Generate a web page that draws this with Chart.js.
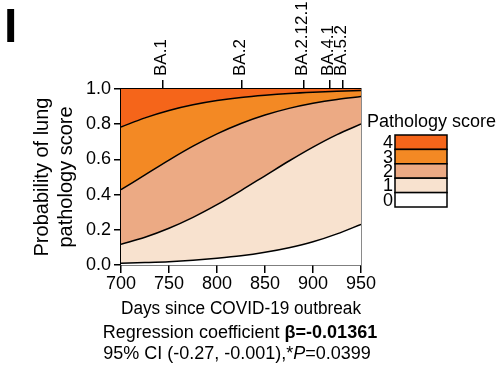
<!DOCTYPE html>
<html>
<head>
<meta charset="utf-8">
<script src="https://cdn.jsdelivr.net/npm/chart.js@4"></script>
<style>
html, body { margin: 0; padding: 0; background: #fff; }
</style>
</head>
<body>
<canvas id="mycanvas" width="497" height="372"></canvas>
<script>
// days since outbreak and cumulative probabilities P(score <= k)
var days = [700, 725, 750, 775, 800, 825, 850, 875, 900, 925, 950];
var cumScore0 = [0.010, 0.014, 0.019, 0.027, 0.038, 0.052, 0.072, 0.098, 0.132, 0.177, 0.231];
var cumScore1 = [0.118, 0.158, 0.209, 0.271, 0.343, 0.423, 0.507, 0.591, 0.670, 0.741, 0.801];
var cumScore2 = [0.428, 0.512, 0.596, 0.675, 0.745, 0.804, 0.852, 0.890, 0.919, 0.941, 0.957];
var cumScore3 = [0.784, 0.836, 0.878, 0.910, 0.934, 0.952, 0.965, 0.975, 0.982, 0.987, 0.991];
var cumScore4 = [1, 1, 1, 1, 1, 1, 1, 1, 1, 1, 1];

var variantDays = [743, 826, 890, 917, 931];
var variantNames = ['BA.1', 'BA.2', 'BA.2.12.1', 'BA.4.1', 'BA.5.2'];

var xTicks = [700, 750, 800, 850, 900, 950];
var yTicks = [0, 0.2, 0.4, 0.6, 0.8, 1.0];

var scoreLabels = ['0', '1', '2', '3', '4'];
var scoreColors = ['#ffffff', '#f8e2cf', '#ecaa84', '#f38924', '#f5651a'];

var FONT = "'Liberation Sans', Arial, sans-serif";
Chart.defaults.font.family = FONT;
Chart.defaults.color = '#000';

function pts(arr) {
	return days.map(function(d, i) { return {x: d, y: arr[i]}; });
}

var series = [cumScore0, cumScore1, cumScore2, cumScore3, cumScore4];
var datasets = series.map(function(arr, k) {
	return {
		label: scoreLabels[k],
		data: pts(arr),
		xAxisID: 'x',
		yAxisID: 'y',
		fill: k === 0 ? 'origin' : '-1',
		backgroundColor: scoreColors[k],
		borderColor: '#000',
		borderWidth: k === 4 ? 0 : 1.5,
		pointRadius: 0,
		cubicInterpolationMode: 'monotone'
	};
});

var extras = {
	id: 'extras',
	afterDraw: function(chart) {
		var ctx = chart.ctx;
		ctx.save();
		ctx.fillStyle = '#000';
		// panel letter
		ctx.font = 'bold 48px ' + FONT;
		ctx.textAlign = 'left';
		ctx.textBaseline = 'alphabetic';
		ctx.fillText('I', 4, 42);

		// legend
		ctx.font = '18px ' + FONT;
		ctx.fillText('Pathology score', 367, 127);
		var bx = 395, bw = 52, bh = 14.4, by = 135;
		ctx.textAlign = 'right';
		ctx.textBaseline = 'middle';
		for (var i = 0; i < scoreLabels.length; i++) {
			var k = scoreLabels.length - 1 - i;
			var y = by + i * bh;
			ctx.fillStyle = scoreColors[k];
			ctx.fillRect(bx, y, bw, bh);
			ctx.strokeStyle = '#000';
			ctx.lineWidth = 1.5;
			ctx.strokeRect(bx, y, bw, bh);
			ctx.fillStyle = '#000';
			ctx.fillText(scoreLabels[k], bx - 2, y + bh / 2 + 1);
		}

		// regression text
		ctx.textAlign = 'left';
		drawMixed(ctx, [
			{t: 'Regression coefficient ', f: '18px ' + FONT},
			{t: '\u03b2=-0.01361', f: 'bold 18px ' + FONT}
		], 240, 333);
		drawMixed(ctx, [
			{t: '95% CI (-0.27, -0.001),*', f: '18px ' + FONT},
			{t: 'P', f: 'italic 18px ' + FONT},
			{t: '=0.0399', f: '18px ' + FONT}
		], 237, 354);
		ctx.restore();
	}
};

function drawMixed(ctx, parts, cx, y) {
	var total = 0;
	parts.forEach(function(p) { ctx.font = p.f; p.w = ctx.measureText(p.t).width; total += p.w; });
	var x = cx - total / 2;
	parts.forEach(function(p) { ctx.font = p.f; ctx.fillText(p.t, x, y); x += p.w; });
}

var ctx = document.getElementById('mycanvas');
var chart = new Chart(ctx, {
	type: 'line',
	data: { datasets: datasets },
	options: {
		responsive: false,
		animation: false,
		layout: { padding: { left: 0, top: 0, right: 136, bottom: 52 } },
		plugins: { legend: { display: false }, tooltip: { enabled: false } },
		scales: {
			x: {
				type: 'linear', position: 'bottom', min: 700, max: 950,
				afterBuildTicks: function(s) { s.ticks = xTicks.map(function(v) { return {value: v}; }); },
				ticks: { font: { size: 18 }, color: '#000', padding: 0, maxRotation: 0, autoSkip: false },
				grid: { drawOnChartArea: false, tickLength: 8, color: '#000', lineWidth: 1.5 },
				border: { color: '#000', width: 1.5 },
				title: { display: true, text: 'Days since COVID-19 outbreak', font: { size: 18, lineHeight: 1.2 }, color: '#000', padding: { top: 0, bottom: 0 } },
				afterFit: function(s) { s.height = 55; }
			},
			xTop: {
				type: 'linear', position: 'top', min: 700, max: 950,
				afterBuildTicks: function(s) { s.ticks = variantDays.map(function(v) { return {value: v}; }); },
				ticks: {
					autoSkip: false, minRotation: 90, maxRotation: 90, padding: 4, labelOffset: 19,
					font: { size: 17 }, color: '#000',
					callback: function(v, i) { return variantNames[i]; }
				},
				grid: { drawOnChartArea: false, tickLength: 9, color: '#000', lineWidth: 1.5 },
				border: { color: '#000', width: 1.5 },
				afterFit: function(s) { s.height = 89; }
			},
			y: {
				min: 0, max: 1,
				afterBuildTicks: function(s) { s.ticks = yTicks.map(function(v) { return {value: v}; }); },
				ticks: { font: { size: 18 }, color: '#000', padding: 3, callback: function(v) { return v.toFixed(1); } },
				grid: { drawOnChartArea: false, tickLength: 7, color: '#000', lineWidth: 1.5 },
				border: { color: '#000', width: 1.5 },
				title: { display: true, text: ['Probability of lung', 'pathology score'], font: { size: 20, lineHeight: 1.2 }, color: '#000', padding: { top: 30, bottom: 0 } },
				afterFit: function(s) { s.width = 121; }
			},
			yRight: {
				position: 'right', min: 0, max: 1,
				ticks: { display: false },
				grid: { display: false },
				border: { color: '#8a8a8a', width: 1 },
				afterFit: function(s) { s.width = 0; }
			}
		}
	},
	plugins: [extras]
});
</script>
</body>
</html>
